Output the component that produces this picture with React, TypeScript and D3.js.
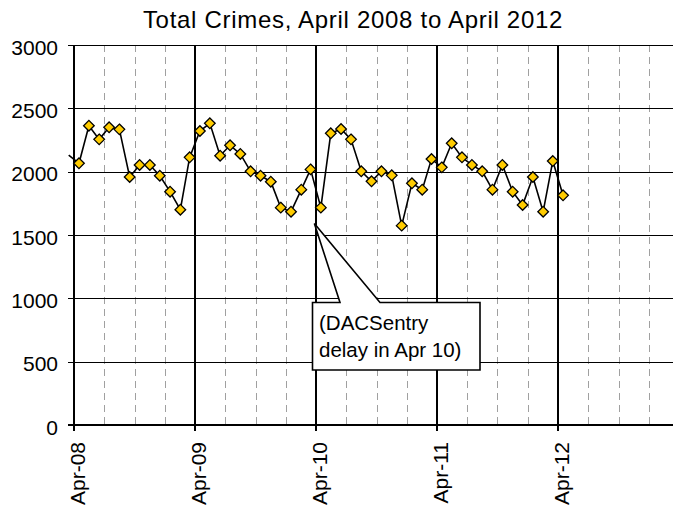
import React, { useEffect, useRef } from "react";
import * as d3 from "d3";

// Monthly totals, Apr 2008 .. Apr 2012
const crimes: number[] = [
  2066, 2363, 2255, 2350, 2334, 1958, 2053, 2053, 1968, 1842, 1700, 2113,
  2321, 2382, 2126, 2208, 2140, 2003, 1968, 1921, 1716, 1684, 1858, 2018,
  1716, 2303, 2337, 2255, 2003, 1924, 2003, 1971, 1574, 1908, 1858, 2100,
  2034, 2224, 2113, 2053, 2003, 1858, 2053, 1842, 1737, 1958, 1684, 2084,
  1813,
];
// value for Mar 2008, only its line segment shows at the left edge
const priorValue = 2130;

const yearLabels = ["Apr-08", "Apr-09", "Apr-10", "Apr-11", "Apr-12"];
const yTicks = [0, 500, 1000, 1500, 2000, 2500, 3000];
const noteLines = ["(DACSentry", "delay in Apr 10)"];

const FONT = "Arial, 'Liberation Sans', sans-serif";

const App: React.FC = () => {
  const svgRef = useRef<SVGSVGElement>(null);

  useEffect(() => {
    if (!svgRef.current) return;
    const width = 673;
    const height = 509;
    const svg = d3.select(svgRef.current);
    svg.selectAll("*").remove();
    svg.attr("width", width).attr("height", height);

    const months = d3.timeMonth.range(new Date(2008, 3, 1), new Date(2012, 4, 1));
    const pointDate = (d: Date) => new Date(d.getFullYear(), d.getMonth(), 16);

    const x = d3
      .scaleTime()
      .domain([new Date(2008, 3, 1), new Date(2013, 3, 1)])
      .range([74, 679]);
    const y = d3.scaleLinear().domain([0, 3000]).range([425, 45]);

    // quarter gridlines (dashed)
    const quarters = d3
      .timeMonth.every(3)!
      .range(new Date(2008, 3, 1), new Date(2013, 3, 2))
      .filter((d) => d.getMonth() !== 3);
    svg
      .append("g")
      .selectAll("line")
      .data(quarters)
      .join("line")
      .attr("x1", (d) => Math.round(x(d)) + 0.5)
      .attr("x2", (d) => Math.round(x(d)) + 0.5)
      .attr("y1", y(3000))
      .attr("y2", y(0))
      .attr("stroke", "#a0a0a0")
      .attr("stroke-width", 1)
      .attr("stroke-dasharray", "7,5");

    // horizontal gridlines
    svg
      .append("g")
      .selectAll("line")
      .data(yTicks)
      .join("line")
      .attr("x1", 68)
      .attr("x2", width)
      .attr("y1", (d) => Math.round(y(d)) + 0.5)
      .attr("y2", (d) => Math.round(y(d)) + 0.5)
      .attr("stroke", "#000")
      .attr("stroke-width", 1);

    // year gridlines + ticks
    const years = yearLabels.map((_, i) => new Date(2008 + i, 3, 1));
    svg
      .append("g")
      .selectAll("line")
      .data(years)
      .join("line")
      .attr("x1", (d) => Math.round(x(d)))
      .attr("x2", (d) => Math.round(x(d)))
      .attr("y1", y(3000))
      .attr("y2", y(0) + 6)
      .attr("stroke", "#000")
      .attr("stroke-width", 2);

    // axes
    svg
      .append("line")
      .attr("x1", 74)
      .attr("x2", 74)
      .attr("y1", y(3000))
      .attr("y2", y(0) + 6)
      .attr("stroke", "#000")
      .attr("stroke-width", 2);
    svg
      .append("line")
      .attr("x1", 68)
      .attr("x2", width)
      .attr("y1", y(0))
      .attr("y2", y(0))
      .attr("stroke", "#000")
      .attr("stroke-width", 2);

    // y labels
    svg
      .append("g")
      .selectAll("text")
      .data(yTicks)
      .join("text")
      .attr("x", 58)
      .attr("y", (d) => y(d) + 9.5)
      .attr("text-anchor", "end")
      .attr("font-family", FONT)
      .attr("font-size", 21)
      .attr("fill", "#000")
      .text((d) => d);

    // x labels (rotated)
    svg
      .append("g")
      .selectAll("text")
      .data(yearLabels)
      .join("text")
      .attr("transform", (_, i) => `translate(${x(years[i])},442) rotate(-90)`)
      .attr("dy", 11)
      .attr("text-anchor", "end")
      .attr("font-family", FONT)
      .attr("font-size", 21)
      .attr("fill", "#000")
      .text((d) => d);

    // series line
    const pts: [Date, number][] = [
      [new Date(2008, 2, 16), priorValue],
      ...months.map((m, i) => [pointDate(m), crimes[i]] as [Date, number]),
    ];
    const line = d3
      .line<[Date, number]>()
      .x((d) => x(d[0]))
      .y((d) => y(d[1]));
    svg
      .append("path")
      .attr("d", line(pts))
      .attr("fill", "none")
      .attr("stroke", "#000")
      .attr("stroke-width", 1.6);

    // diamond markers
    const diamond = d3.symbol().type(d3.symbolDiamond2).size(72);
    svg
      .append("g")
      .selectAll("path")
      .data(crimes)
      .join("path")
      .attr("d", diamond)
      .attr(
        "transform",
        (d, i) => `translate(${x(pointDate(months[i]))},${y(d)})`
      )
      .attr("fill", "#ffcc00")
      .attr("stroke", "#000")
      .attr("stroke-width", 1.3);

    // callout
    const tipDate = new Date(2010, 3, 1);
    const tx = x(tipDate) - 1.5;
    const ty = y(1590);
    const bx0 = 312.5;
    const bx1 = 480;
    const by0 = 302.5;
    const by1 = 370;
    svg
      .append("path")
      .attr(
        "d",
        `M${bx0},${by0} L340,${by0} L${tx},${ty} L380,${by0} L${bx1},${by0} L${bx1},${by1} L${bx0},${by1} Z`
      )
      .attr("fill", "#fff")
      .attr("stroke", "#000")
      .attr("stroke-width", 1.6);
    svg
      .append("g")
      .selectAll("text")
      .data(noteLines)
      .join("text")
      .attr("x", 319)
      .attr("y", (_, i) => 330 + i * 26.7)
      .attr("font-family", FONT)
      .attr("font-size", 20.5)
      .attr("fill", "#000")
      .text((d) => d);

    // title
    svg
      .append("text")
      .attr("x", 353)
      .attr("y", 28)
      .attr("text-anchor", "middle")
      .attr("font-family", FONT)
      .attr("font-size", 24)
      .attr("letter-spacing", 0.7)
      .attr("fill", "#000")
      .text("Total Crimes, April 2008 to April 2012");
  }, []);

  return (
    <div style={{ position: "absolute", left: 0, top: 0, background: "#fff" }}>
      <svg ref={svgRef} style={{ display: "block" }} />
    </div>
  );
};

export default App;
